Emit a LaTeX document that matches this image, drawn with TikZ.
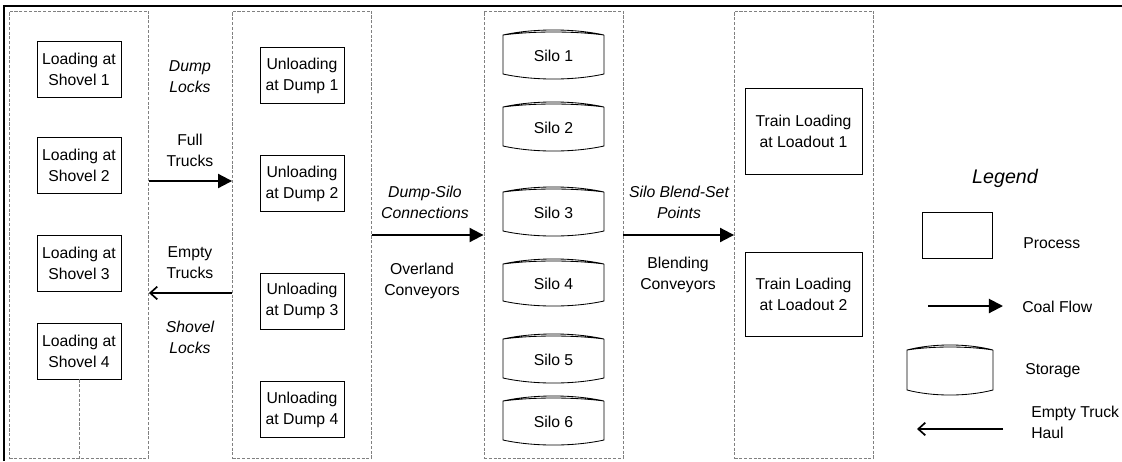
\documentclass[tikz,border=0pt]{standalone}
\usepackage{fontspec}
\setmainfont{Liberation Sans}
\usetikzlibrary{arrows.meta}

% silo drawing: name, left x, top y, width, height, label
\newcommand{\silo}[6]{%
  \draw[line width=0.6pt] (#2,#3+5) .. controls (#2+0.3*#4,#3-1.7) and (#2+0.7*#4,#3-1.7) .. (#2+#4,#3+5)
    .. controls (#2+0.7*#4,#3+1) and (#2+0.3*#4,#3+1) .. (#2,#3+5)
    -- (#2,#3+#5-5)
    .. controls (#2+0.3*#4,#3+#5+1.7) and (#2+0.7*#4,#3+#5+1.7) .. (#2+#4,#3+#5-5)
    -- (#2+#4,#3+5);
  \node (#1) at (#2+0.5*#4,#3+0.53*#5) {#6};
}

\begin{document}
\begin{tikzpicture}[x=0.025cm,y=-0.025cm,
  every node/.style={font=\fontsize{11.2}{15}\selectfont},
  group/.style={draw=gray,dash pattern=on 2.2pt off 1.2pt,line width=0.6pt,
    minimum width=3.475cm,minimum height=11.175cm,inner sep=0pt},
  process/.style={draw,line width=0.6pt,align=center,inner sep=0pt,
    minimum width=2.1cm,minimum height=1.4cm},
  flow/.style={-{Triangle[length=10pt,width=10pt]},line width=1.4pt},
  haul/.style={-{Straight Barb[length=5pt,width=9pt]},line width=1.2pt},
  note/.style={align=center,font=\fontsize{11.2}{15}\selectfont\itshape},
  label/.style={align=center}]
  \useasboundingbox (0,0) rectangle (1122,461);
  \draw[line width=1.8pt] (4,461) -- (4,6) -- (1122,6);

  % Stages (dashed groups)
  \node[group] (shovels) at (79,234.5) {};
  \node[group] (dumps) at (302,234.5) {};
  \node[group] (silos) at (553.5,234.5) {};
  \node[group] (loadouts) at (804,234.5) {};

  % Loading at shovels
  \node[process] (shovel1) at (79,69) {Loading at\\Shovel 1};
  \node[process] (shovel2) at (79,165.5) {Loading at\\Shovel 2};
  \node[process] (shovel3) at (79,263) {Loading at\\Shovel 3};
  \node[process] (shovel4) at (79,351) {Loading at\\Shovel 4};
  \draw[draw=gray,dash pattern=on 2.2pt off 1.2pt,line width=0.6pt] (shovel4.south) -- (shovel4.south |- shovels.south);

  % Unloading at dumps
  \node[process] (dump1) at (302,75.5) {Unloading\\at Dump 1};
  \node[process] (dump2) at (302,183.5) {Unloading\\at Dump 2};
  \node[process] (dump3) at (302,301) {Unloading\\at Dump 3};
  \node[process] (dump4) at (302,409.5) {Unloading\\at Dump 4};

  % Silos
  \silo{silo1}{503}{30}{101}{49}{Silo 1}
  \silo{silo2}{503}{102}{101}{49}{Silo 2}
  \silo{silo3}{503}{187}{101}{49}{Silo 3}
  \silo{silo4}{503}{259}{101}{47}{Silo 4}
  \silo{silo5}{503}{334}{101}{49}{Silo 5}
  \silo{silo6}{503}{396}{101}{49}{Silo 6}

  % Train loading
  \node[process,minimum width=2.925cm,minimum height=2.15cm] (load1) at (803.5,131.5) {Train Loading\\at Loadout 1};
  \node[process,minimum width=2.925cm,minimum height=2.1cm] (load2) at (803.5,294.5) {Train Loading\\at Loadout 2};

  % Flows between stages
  \draw[flow] (shovels.east |- 0,181) -- (dumps.west |- 0,181);
  \draw[haul] (dumps.west |- 0,293) -- (shovels.east |- 0,293);
  \draw[flow] (dumps.east |- 0,235) -- (silos.west |- 0,235);
  \draw[flow] (silos.east |- 0,235) -- (loadouts.west |- 0,235);

  \node[note] (dlocks) at (190,77) {Dump\\Locks};
  \node[label] (full) at (190,150) {Full\\Trucks};
  \node[label] (empty) at (190,263) {Empty\\Trucks};
  \node[note] (slocks) at (190,337) {Shovel\\Locks};
  \node[note] (dsconn) at (425,202) {Dump-Silo\\Connections};
  \node[label] (overland) at (422,281) {Overland\\Conveyors};
  \node[note] (blendset) at (679,202) {Silo Blend-Set\\Points};
  \node[label] (blending) at (678,275) {Blending\\Conveyors};

  % Legend
  \node[font=\fontsize{14}{16}\selectfont\itshape] (legend) at (1005,178) {Legend};
  \node[process,minimum width=1.75cm,minimum height=1.15cm] (lgprocess) at (957,235) {};
  \node[anchor=west,inner sep=0pt] (process) at (1023,243) {Process};
  \coordinate (lgflowa) at (928,306);
  \coordinate (lgflowb) at (1003,306);
  \draw[flow] (lgflowa) -- (lgflowb);
  \node[anchor=west,inner sep=0pt] (coalflow) at (1022,307) {Coal Flow};
  \silo{lgsilo}{907}{345}{86}{50}{}
  \node[anchor=west,inner sep=0pt] (storage) at (1025,371) {Storage};
  \coordinate (lghaula) at (1003,429);
  \coordinate (lghaulb) at (917,429);
  \draw[haul] (lghaula) -- (lghaulb);
  \node[anchor=west,align=left,inner sep=0pt] (haul) at (1031,422) {Empty Truck\\Haul};
\end{tikzpicture}
\end{document}
